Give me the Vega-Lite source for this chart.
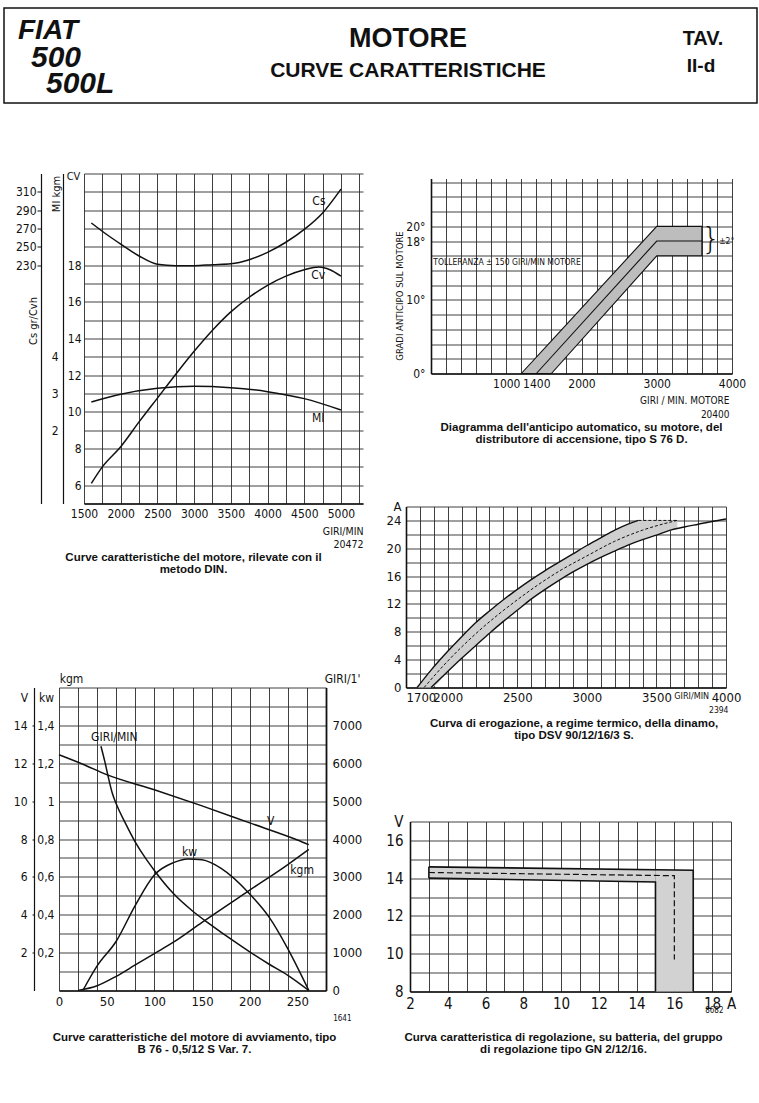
{
  "$schema": "https://vega.github.io/schema/vega-lite/v6.json",
  "background": "white",
  "padding": {"left": 3, "top": 7, "right": 0, "bottom": 0},
  "config": {
    "view": {"stroke": null},
    "font": "Liberation Sans Narrow, DejaVu Sans Condensed, Roboto Condensed, sans-serif",
    "axis": {
      "labelFont": "Liberation Sans Narrow, DejaVu Sans Condensed, Roboto Condensed, sans-serif",
      "labelFontSize": 12, "labelColor": "#111",
      "titleFont": "Liberation Sans Narrow, DejaVu Sans Condensed, Roboto Condensed, sans-serif",
      "titleFontSize": 11, "titleFontWeight": "normal", "titleColor": "#111",
      "domainColor": "#111", "tickColor": "#111",
      "gridColor": "#2a2a2a", "gridWidth": 0.9, "gridOpacity": 1,
      "labelFlush": false, "labelOverlap": false, "tickCount": 100
    },
    "title": {"font": "Liberation Sans, Arial, sans-serif", "fontSize": 11, "fontWeight": "bold", "color": "#111", "lineHeight": 12},
    "text": {"font": "Liberation Sans Narrow, DejaVu Sans Condensed, Roboto Condensed, sans-serif", "color": "#111"},
    "line": {"color": "#111"}
  },
  "datasets": {
    "intestazione": [
      {"blocco": "marca", "riga": 1, "testo": "FIAT"},
      {"blocco": "marca", "riga": 2, "testo": "500"},
      {"blocco": "marca", "riga": 3, "testo": "500L"},
      {"blocco": "titolo", "riga": 1, "testo": "MOTORE"},
      {"blocco": "titolo", "riga": 2, "testo": "CURVE CARATTERISTICHE"},
      {"blocco": "tavola", "riga": 1, "testo": "TAV."},
      {"blocco": "tavola", "riga": 2, "testo": "II-d"}
    ],
    "motore": [
      {"serie": "Cs", "giri": 1600, "valore": 276},
      {"serie": "Cs", "giri": 1800, "valore": 264},
      {"serie": "Cs", "giri": 2000, "valore": 253},
      {"serie": "Cs", "giri": 2250, "valore": 240},
      {"serie": "Cs", "giri": 2500, "valore": 231},
      {"serie": "Cs", "giri": 2750, "valore": 229.5},
      {"serie": "Cs", "giri": 3000, "valore": 229.5},
      {"serie": "Cs", "giri": 3250, "valore": 230.5},
      {"serie": "Cs", "giri": 3500, "valore": 231.5},
      {"serie": "Cs", "giri": 3750, "valore": 236},
      {"serie": "Cs", "giri": 4000, "valore": 244},
      {"serie": "Cs", "giri": 4250, "valore": 255},
      {"serie": "Cs", "giri": 4500, "valore": 269},
      {"serie": "Cs", "giri": 4750, "valore": 287},
      {"serie": "Cs", "giri": 5000, "valore": 313},
      {"serie": "Cv", "giri": 1600, "valore": 6.1},
      {"serie": "Cv", "giri": 1750, "valore": 7.0},
      {"serie": "Cv", "giri": 2000, "valore": 8.1},
      {"serie": "Cv", "giri": 2250, "valore": 9.45},
      {"serie": "Cv", "giri": 2500, "valore": 10.75},
      {"serie": "Cv", "giri": 2750, "valore": 12.05},
      {"serie": "Cv", "giri": 3000, "valore": 13.3},
      {"serie": "Cv", "giri": 3250, "valore": 14.45},
      {"serie": "Cv", "giri": 3500, "valore": 15.45},
      {"serie": "Cv", "giri": 3750, "valore": 16.25},
      {"serie": "Cv", "giri": 4000, "valore": 16.9},
      {"serie": "Cv", "giri": 4250, "valore": 17.4},
      {"serie": "Cv", "giri": 4500, "valore": 17.75},
      {"serie": "Cv", "giri": 4700, "valore": 17.9},
      {"serie": "Cv", "giri": 4850, "valore": 17.75},
      {"serie": "Cv", "giri": 5000, "valore": 17.4},
      {"serie": "MI", "giri": 1600, "valore": 2.77},
      {"serie": "MI", "giri": 2000, "valore": 2.98},
      {"serie": "MI", "giri": 2500, "valore": 3.14},
      {"serie": "MI", "giri": 3000, "valore": 3.2},
      {"serie": "MI", "giri": 3500, "valore": 3.16},
      {"serie": "MI", "giri": 4000, "valore": 3.05},
      {"serie": "MI", "giri": 4500, "valore": 2.86},
      {"serie": "MI", "giri": 5000, "valore": 2.55}
    ],
    "motore_etichette": [
      {"serie": "Cs", "testo": "Cs", "giri": 4700, "valore": 300},
      {"serie": "Cv", "testo": "Cv", "giri": 4690, "valore": 17.45},
      {"serie": "MI", "testo": "MI", "giri": 4690, "valore": 2.32}
    ],
    "anticipo_fascia": [
      {"giri": 1200, "sup": 0, "inf": 0},
      {"giri": 1600, "sup": 4.44, "inf": 0},
      {"giri": 3000, "sup": 20, "inf": 16},
      {"giri": 3600, "sup": 20, "inf": 16}
    ],
    "anticipo_medio": [
      {"giri": 1400, "gradi": 0},
      {"giri": 3000, "gradi": 18},
      {"giri": 3600, "gradi": 18}
    ],
    "anticipo_testi": [
      {"tipo": "nota", "testo": "TOLLERANZA ± 150 GIRI/MIN  MOTORE", "giri": 30, "gradi": 15.1},
      {"tipo": "graffa", "testo": "}", "giri": 3720, "gradi": 18.2},
      {"tipo": "nota", "testo": "±2°", "giri": 3830, "gradi": 18.0}
    ],
    "dinamo_fascia": [
      {"giri": 1780, "sup": 0, "inf": 0},
      {"giri": 1880, "sup": 2.5, "inf": 0},
      {"giri": 2000, "sup": 5.2, "inf": 2.3},
      {"giri": 2100, "sup": 7.3, "inf": 4.2},
      {"giri": 2200, "sup": 9.3, "inf": 6.0},
      {"giri": 2300, "sup": 11.0, "inf": 7.8},
      {"giri": 2400, "sup": 12.6, "inf": 9.5},
      {"giri": 2500, "sup": 14.1, "inf": 11.1},
      {"giri": 2600, "sup": 15.5, "inf": 12.7},
      {"giri": 2700, "sup": 16.8, "inf": 14.1},
      {"giri": 2800, "sup": 18.0, "inf": 15.4},
      {"giri": 2900, "sup": 19.2, "inf": 16.6},
      {"giri": 3000, "sup": 20.4, "inf": 17.7},
      {"giri": 3100, "sup": 21.5, "inf": 18.7},
      {"giri": 3200, "sup": 22.6, "inf": 19.6},
      {"giri": 3300, "sup": 23.5, "inf": 20.5},
      {"giri": 3370, "sup": 24.0, "inf": 21.0},
      {"giri": 3500, "sup": 24.0, "inf": 21.9},
      {"giri": 3650, "sup": 24.0, "inf": 22.85}
    ],
    "dinamo_linee": [
      {"serie": "sup", "giri": 1780, "ampere": 0},
      {"serie": "sup", "giri": 1880, "ampere": 2.5},
      {"serie": "sup", "giri": 2000, "ampere": 5.2},
      {"serie": "sup", "giri": 2100, "ampere": 7.3},
      {"serie": "sup", "giri": 2200, "ampere": 9.3},
      {"serie": "sup", "giri": 2300, "ampere": 11.0},
      {"serie": "sup", "giri": 2400, "ampere": 12.6},
      {"serie": "sup", "giri": 2500, "ampere": 14.1},
      {"serie": "sup", "giri": 2600, "ampere": 15.5},
      {"serie": "sup", "giri": 2700, "ampere": 16.8},
      {"serie": "sup", "giri": 2800, "ampere": 18.0},
      {"serie": "sup", "giri": 2900, "ampere": 19.2},
      {"serie": "sup", "giri": 3000, "ampere": 20.4},
      {"serie": "sup", "giri": 3100, "ampere": 21.5},
      {"serie": "sup", "giri": 3200, "ampere": 22.6},
      {"serie": "sup", "giri": 3300, "ampere": 23.5},
      {"serie": "sup", "giri": 3370, "ampere": 24.0},
      {"serie": "inf", "giri": 1880, "ampere": 0},
      {"serie": "inf", "giri": 2000, "ampere": 2.3},
      {"serie": "inf", "giri": 2100, "ampere": 4.2},
      {"serie": "inf", "giri": 2200, "ampere": 6.0},
      {"serie": "inf", "giri": 2300, "ampere": 7.8},
      {"serie": "inf", "giri": 2400, "ampere": 9.5},
      {"serie": "inf", "giri": 2500, "ampere": 11.1},
      {"serie": "inf", "giri": 2600, "ampere": 12.7},
      {"serie": "inf", "giri": 2700, "ampere": 14.1},
      {"serie": "inf", "giri": 2800, "ampere": 15.4},
      {"serie": "inf", "giri": 2900, "ampere": 16.6},
      {"serie": "inf", "giri": 3000, "ampere": 17.7},
      {"serie": "inf", "giri": 3100, "ampere": 18.7},
      {"serie": "inf", "giri": 3200, "ampere": 19.6},
      {"serie": "inf", "giri": 3300, "ampere": 20.5},
      {"serie": "inf", "giri": 3400, "ampere": 21.25},
      {"serie": "inf", "giri": 3500, "ampere": 21.9},
      {"serie": "inf", "giri": 3600, "ampere": 22.6},
      {"serie": "inf", "giri": 3700, "ampere": 23.05},
      {"serie": "inf", "giri": 3800, "ampere": 23.45},
      {"serie": "inf", "giri": 3900, "ampere": 23.85},
      {"serie": "inf", "giri": 4000, "ampere": 24.2},
      {"serie": "med", "giri": 1830, "ampere": 0},
      {"serie": "med", "giri": 2000, "ampere": 3.8},
      {"serie": "med", "giri": 2200, "ampere": 7.7},
      {"serie": "med", "giri": 2500, "ampere": 12.6},
      {"serie": "med", "giri": 2800, "ampere": 16.7},
      {"serie": "med", "giri": 3000, "ampere": 18.9},
      {"serie": "med", "giri": 3200, "ampere": 21.0},
      {"serie": "med", "giri": 3400, "ampere": 22.6},
      {"serie": "med", "giri": 3550, "ampere": 23.5},
      {"serie": "med", "giri": 3650, "ampere": 24.0},
      {"serie": "lim", "giri": 3370, "ampere": 24.0},
      {"serie": "lim", "giri": 3650, "ampere": 24.0}
    ],
    "avviamento": [
      {"serie": "GIRI", "corrente": 44, "valore": 6450},
      {"serie": "GIRI", "corrente": 48, "valore": 6050},
      {"serie": "GIRI", "corrente": 52, "valore": 5600},
      {"serie": "GIRI", "corrente": 56, "valore": 5200},
      {"serie": "GIRI", "corrente": 60, "valore": 4930},
      {"serie": "GIRI", "corrente": 70, "valore": 4400},
      {"serie": "GIRI", "corrente": 80, "valore": 3920},
      {"serie": "GIRI", "corrente": 90, "valore": 3520},
      {"serie": "GIRI", "corrente": 100, "valore": 3170},
      {"serie": "GIRI", "corrente": 120, "valore": 2560},
      {"serie": "GIRI", "corrente": 140, "valore": 2100},
      {"serie": "GIRI", "corrente": 160, "valore": 1720},
      {"serie": "GIRI", "corrente": 180, "valore": 1360},
      {"serie": "GIRI", "corrente": 200, "valore": 1020},
      {"serie": "GIRI", "corrente": 220, "valore": 700},
      {"serie": "GIRI", "corrente": 240, "valore": 400},
      {"serie": "GIRI", "corrente": 262, "valore": 0},
      {"serie": "V", "corrente": 0, "valore": 12.45},
      {"serie": "V", "corrente": 25, "valore": 11.95},
      {"serie": "V", "corrente": 50, "valore": 11.4},
      {"serie": "V", "corrente": 100, "valore": 10.6},
      {"serie": "V", "corrente": 150, "valore": 9.75},
      {"serie": "V", "corrente": 200, "valore": 8.85},
      {"serie": "V", "corrente": 250, "valore": 7.95},
      {"serie": "V", "corrente": 262, "valore": 7.7},
      {"serie": "kw", "corrente": 25, "valore": 0},
      {"serie": "kw", "corrente": 40, "valore": 0.13},
      {"serie": "kw", "corrente": 60, "valore": 0.26},
      {"serie": "kw", "corrente": 80, "valore": 0.45},
      {"serie": "kw", "corrente": 100, "valore": 0.61},
      {"serie": "kw", "corrente": 120, "valore": 0.675},
      {"serie": "kw", "corrente": 135, "valore": 0.695},
      {"serie": "kw", "corrente": 150, "valore": 0.69},
      {"serie": "kw", "corrente": 170, "valore": 0.645},
      {"serie": "kw", "corrente": 200, "valore": 0.51},
      {"serie": "kw", "corrente": 220, "valore": 0.39},
      {"serie": "kw", "corrente": 240, "valore": 0.22},
      {"serie": "kw", "corrente": 262, "valore": 0},
      {"serie": "kgm", "corrente": 20, "valore": 0},
      {"serie": "kgm", "corrente": 40, "valore": 0.025},
      {"serie": "kgm", "corrente": 60, "valore": 0.075},
      {"serie": "kgm", "corrente": 80, "valore": 0.135},
      {"serie": "kgm", "corrente": 100, "valore": 0.195},
      {"serie": "kgm", "corrente": 120, "valore": 0.255},
      {"serie": "kgm", "corrente": 150, "valore": 0.36},
      {"serie": "kgm", "corrente": 200, "valore": 0.53},
      {"serie": "kgm", "corrente": 240, "valore": 0.665},
      {"serie": "kgm", "corrente": 262, "valore": 0.745}
    ],
    "avviamento_etichette": [
      {"serie": "GIRI", "testo": "GIRI/MIN", "corrente": 58, "valore": 6700},
      {"serie": "V", "testo": "V", "corrente": 222, "valore": 8.95},
      {"serie": "kw", "testo": "kw", "corrente": 137, "valore": 0.73},
      {"serie": "kgm", "testo": "kgm", "corrente": 255, "valore": 0.635}
    ],
    "regolazione_fascia": [
      {"ampere": 3, "sup": 14.6, "inf": 14.0},
      {"ampere": 15, "sup": 14.43, "inf": 13.8}
    ],
    "regolazione_rett": [
      {"da": 15, "a": 17, "inf": 8, "sup": 14.42}
    ],
    "regolazione_linee": [
      {"serie": "esterno", "ord": 1, "ampere": 3, "volt": 14.6},
      {"serie": "esterno", "ord": 2, "ampere": 17, "volt": 14.42},
      {"serie": "esterno", "ord": 3, "ampere": 17, "volt": 8},
      {"serie": "interno", "ord": 1, "ampere": 3, "volt": 14.0},
      {"serie": "interno", "ord": 2, "ampere": 15, "volt": 13.8},
      {"serie": "interno", "ord": 3, "ampere": 15, "volt": 8},
      {"serie": "sinistro", "ord": 1, "ampere": 3, "volt": 14.0},
      {"serie": "sinistro", "ord": 2, "ampere": 3, "volt": 14.6},
      {"serie": "medio", "ord": 1, "ampere": 3, "volt": 14.3},
      {"serie": "medio", "ord": 2, "ampere": 16, "volt": 14.13},
      {"serie": "medio", "ord": 3, "ampere": 16, "volt": 9.7}
    ]
  },
  "spacing": 63.5,
  "vconcat": [
    {
      "width": 753, "height": 95,
      "view": {"stroke": "#111", "strokeWidth": 1.5},
      "data": {"name": "intestazione"},
      "encoding": {
        "x": {"field": "blocco", "type": "nominal", "scale": {"type": "point", "domain": ["marca", "titolo", "tavola"], "range": [14, 697], "padding": 0}, "axis": null},
        "y": {"field": "riga", "type": "ordinal", "scale": {"type": "point", "domain": [1, 2, 3], "range": [23, 76], "padding": 0}, "axis": null},
        "text": {"field": "testo"}
      },
      "layer": [
        {"transform": [{"filter": "datum.testo == 'FIAT'"}], "mark": {"type": "text", "font": "Liberation Sans, Arial, sans-serif", "fontSize": 28, "fontStyle": "italic", "fontWeight": "bold", "align": "left", "baseline": "middle"}},
        {"transform": [{"filter": "datum.testo == '500'"}], "mark": {"type": "text", "font": "Liberation Sans, Arial, sans-serif", "fontSize": 30, "fontStyle": "italic", "fontWeight": "bold", "align": "left", "baseline": "middle", "dx": 13}},
        {"transform": [{"filter": "datum.testo == '500L'"}], "mark": {"type": "text", "font": "Liberation Sans, Arial, sans-serif", "fontSize": 30, "fontStyle": "italic", "fontWeight": "bold", "align": "left", "baseline": "middle", "dx": 28}},
        {"transform": [{"filter": "datum.testo == 'MOTORE'"}], "mark": {"type": "text", "font": "Liberation Sans, Arial, sans-serif", "fontSize": 27, "fontWeight": "bold", "align": "center", "baseline": "middle", "dx": 48.5, "dy": 8}},
        {"transform": [{"filter": "datum.testo == 'CURVE CARATTERISTICHE'"}], "mark": {"type": "text", "font": "Liberation Sans, Arial, sans-serif", "fontSize": 21, "fontWeight": "bold", "align": "center", "baseline": "middle", "dx": 48.5, "dy": 13}},
        {"transform": [{"filter": "datum.testo == 'TAV.'"}], "mark": {"type": "text", "font": "Liberation Sans, Arial, sans-serif", "fontSize": 20, "fontWeight": "bold", "align": "center", "baseline": "middle", "dx": 2, "dy": 8}},
        {"transform": [{"filter": "datum.testo == 'II-d'"}], "mark": {"type": "text", "font": "Liberation Sans, Arial, sans-serif", "fontSize": 19, "fontWeight": "bold", "align": "center", "baseline": "middle", "dy": 8}}
      ]
    },
    {
      "spacing": 6,
      "hconcat": [
        {
          "spacing": 0,
          "vconcat": [
            {
              "spacing": 0,
              "bounds": "flush",
              "hconcat": [
                {"width": 80, "height": 499, "data": {"values": []}, "mark": "point"},
                {
                  "width": 279, "height": 330,
                  "title": {"text": ["Curve caratteristiche del motore, rilevate con il", "metodo DIN."], "orient": "bottom", "anchor": "middle", "frame": "group", "dx": -30, "offset": 2, "fontSize": 11.5},
                  "resolve": {"scale": {"y": "independent"}},
                  "layer": [
                    {
                      "layer": [
                        {
                          "data": {"name": "motore"},
                          "transform": [{"filter": "datum.serie == 'Cv'"}],
                          "mark": {"type": "line", "interpolate": "monotone", "strokeWidth": 1.5, "color": "#111"},
                          "encoding": {
                            "x": {"field": "giri", "type": "quantitative", "scale": {"domain": [1500, 5300], "nice": false, "zero": false},
                              "axis": {"values": [1500, 1750, 2000, 2250, 2500, 2750, 3000, 3250, 3500, 3750, 4000, 4250, 4500, 4750, 5000, 5250], "tickCount": 100, "grid": true, "format": "d", "labelExpr": "datum.value % 500 == 0 ? datum.label : ''", "ticks": false, "domainWidth": 1.5, "labelPadding": 5, "labelFontSize": 12, "title": ["GIRI/MIN", "20472"], "titleAlign": "right", "titleX": 279, "titleY": 23, "titleBaseline": "top", "titleFontSize": 10.5, "titleLineHeight": 13}},
                            "y": {"field": "valore", "type": "quantitative", "scale": {"domain": [5, 23], "nice": false, "zero": false},
                              "axis": {"values": [5, 6, 7, 8, 9, 10, 11, 12, 13, 14, 15, 16, 17, 18, 19, 20, 21, 22, 23], "tickCount": 100, "format": "d", "grid": true, "domain": false, "ticks": false, "labelExpr": "(datum.value % 2 == 0 && datum.value >= 6 && datum.value <= 18) ? datum.label : ''", "labelPadding": 3, "labelFontSize": 12, "title": "CV", "titleAngle": 0, "titleX": -11, "titleY": 3, "titleAlign": "center", "titleBaseline": "middle"}}
                          }
                        },
                        {
                          "data": {"name": "motore_etichette"},
                          "transform": [{"filter": "datum.serie == 'Cv'"}],
                          "mark": {"type": "text", "fontSize": 12},
                          "encoding": {
                            "x": {"field": "giri", "type": "quantitative", "scale": {"domain": [1500, 5300], "nice": false, "zero": false}},
                            "y": {"field": "valore", "type": "quantitative", "scale": {"domain": [5, 23], "nice": false, "zero": false}},
                            "text": {"field": "testo"}
                          }
                        }
                      ]
                    },
                    {
                      "layer": [
                        {
                          "data": {"name": "motore"},
                          "transform": [{"filter": "datum.serie == 'Cs'"}],
                          "mark": {"type": "line", "interpolate": "monotone", "strokeWidth": 1.5, "color": "#111"},
                          "encoding": {
                            "x": {"field": "giri", "type": "quantitative", "scale": {"domain": [1500, 5300], "nice": false, "zero": false}},
                            "y": {"field": "valore", "type": "quantitative", "scale": {"domain": [-30, 330], "nice": false, "zero": false},
                              "axis": {"orient": "left", "offset": 43, "values": [230, 250, 270, 290, 310], "tickCount": 100, "format": "d", "grid": false, "domain": true, "domainWidth": 1.2, "ticks": true, "tickSize": 4, "labelPadding": 1, "labelFontSize": 12, "title": "Cs gr/Cvh", "titleAngle": -90, "titleX": -8, "titleY": 147, "titleAlign": "center", "titleBaseline": "middle"}}
                          }
                        },
                        {
                          "data": {"name": "motore_etichette"},
                          "transform": [{"filter": "datum.serie == 'Cs'"}],
                          "mark": {"type": "text", "fontSize": 12},
                          "encoding": {
                            "x": {"field": "giri", "type": "quantitative", "scale": {"domain": [1500, 5300], "nice": false, "zero": false}},
                            "y": {"field": "valore", "type": "quantitative", "scale": {"domain": [-30, 330], "nice": false, "zero": false}},
                            "text": {"field": "testo"}
                          }
                        }
                      ]
                    },
                    {
                      "layer": [
                        {
                          "data": {"name": "motore"},
                          "transform": [{"filter": "datum.serie == 'MI'"}],
                          "mark": {"type": "line", "interpolate": "monotone", "strokeWidth": 1.5, "color": "#111"},
                          "encoding": {
                            "x": {"field": "giri", "type": "quantitative", "scale": {"domain": [1500, 5300], "nice": false, "zero": false}},
                            "y": {"field": "valore", "type": "quantitative", "scale": {"domain": [0, 9], "nice": false, "zero": false},
                              "axis": {"orient": "left", "offset": 21, "values": [2, 3, 4], "tickCount": 100, "format": "d", "grid": false, "domain": true, "domainWidth": 1.2, "ticks": false, "labelPadding": 5, "labelFontSize": 12, "title": "MI kgm", "titleAngle": -90, "titleX": -7, "titleY": 20, "titleAlign": "center", "titleBaseline": "middle"}}
                          }
                        },
                        {
                          "data": {"name": "motore_etichette"},
                          "transform": [{"filter": "datum.serie == 'MI'"}],
                          "mark": {"type": "text", "fontSize": 12},
                          "encoding": {
                            "x": {"field": "giri", "type": "quantitative", "scale": {"domain": [1500, 5300], "nice": false, "zero": false}},
                            "y": {"field": "valore", "type": "quantitative", "scale": {"domain": [0, 9], "nice": false, "zero": false}},
                            "text": {"field": "testo"}
                          }
                        }
                      ]
                    }
                  ]
                }
              ]
            },
            {
              "spacing": 0,
              "bounds": "flush",
              "hconcat": [
                {"width": 55, "height": 1, "data": {"values": []}, "mark": "point"},
                {
                  "width": 267, "height": 303,
                  "title": {"text": ["Curve caratteristiche del motore di avviamento, tipo", "B 76 - 0,5/12 S  Var. 7."], "orient": "bottom", "anchor": "middle", "frame": "group", "dx": 2, "offset": 9, "fontSize": 11.5},
                  "resolve": {"scale": {"y": "independent"}},
                  "layer": [
                    {
                      "layer": [
                        {
                          "data": {"name": "avviamento"},
                          "transform": [{"filter": "datum.serie == 'GIRI'"}],
                          "mark": {"type": "line", "interpolate": "monotone", "strokeWidth": 1.5, "color": "#111"},
                          "encoding": {
                            "x": {"field": "corrente", "type": "quantitative", "scale": {"domain": [0, 280], "nice": false, "zero": false},
                              "axis": {"values": [0, 20, 40, 50, 60, 80, 100, 120, 140, 150, 160, 180, 200, 220, 240, 250, 260, 280], "tickCount": 100, "grid": true, "gridOpacity": {"condition": {"test": "datum.value % 20 != 0", "value": 0}, "value": 1}, "format": "d", "labelExpr": "datum.value % 50 == 0 ? datum.label : ''", "ticks": false, "domainWidth": 1.5, "labelPadding": 5, "labelFontSize": 13, "title": "1641", "titleAlign": "right", "titleX": 292, "titleY": 28, "titleBaseline": "middle", "titleFontSize": 8}},
                            "y": {"field": "valore", "type": "quantitative", "scale": {"domain": [0, 8000], "nice": false, "zero": false},
                              "axis": {"orient": "right", "values": [0, 500, 1000, 1500, 2000, 2500, 3000, 3500, 4000, 4500, 5000, 5500, 6000, 6500, 7000, 7500, 8000], "tickCount": 100, "grid": true, "format": "d", "labelExpr": "(datum.value % 1000 == 0 && datum.value <= 7000) ? datum.label : ''", "domain": true, "domainWidth": 1.8, "ticks": false, "labelPadding": 6, "labelFontSize": 13, "title": "GIRI/1'", "titleAngle": 0, "titleX": 16, "titleY": -9, "titleAlign": "center", "titleBaseline": "middle", "titleFontSize": 12}}
                          }
                        },
                        {
                          "data": {"name": "avviamento_etichette"},
                          "transform": [{"filter": "datum.serie == 'GIRI'"}],
                          "mark": {"type": "text", "fontSize": 12},
                          "encoding": {
                            "x": {"field": "corrente", "type": "quantitative", "scale": {"domain": [0, 280], "nice": false, "zero": false}},
                            "y": {"field": "valore", "type": "quantitative", "scale": {"domain": [0, 8000], "nice": false, "zero": false}},
                            "text": {"field": "testo"}
                          }
                        }
                      ]
                    },
                    {
                      "layer": [
                        {
                          "data": {"name": "avviamento"},
                          "transform": [{"filter": "datum.serie == 'V'"}],
                          "mark": {"type": "line", "interpolate": "monotone", "strokeWidth": 1.5, "color": "#111"},
                          "encoding": {
                            "x": {"field": "corrente", "type": "quantitative", "scale": {"domain": [0, 280], "nice": false, "zero": false}},
                            "y": {"field": "valore", "type": "quantitative", "scale": {"domain": [0, 16], "nice": false, "zero": false},
                              "axis": {"orient": "left", "offset": 25, "values": [2, 4, 6, 8, 10, 12, 14], "tickCount": 100, "format": "d", "grid": false, "domain": true, "domainWidth": 1.2, "ticks": true, "tickSize": 2, "labelPadding": 5, "labelFontSize": 12, "title": "V", "titleAngle": 0, "titleX": -10, "titleY": 10, "titleAlign": "center", "titleBaseline": "middle", "titleFontSize": 12}}
                          }
                        },
                        {
                          "data": {"name": "avviamento_etichette"},
                          "transform": [{"filter": "datum.serie == 'V'"}],
                          "mark": {"type": "text", "fontSize": 12},
                          "encoding": {
                            "x": {"field": "corrente", "type": "quantitative", "scale": {"domain": [0, 280], "nice": false, "zero": false}},
                            "y": {"field": "valore", "type": "quantitative", "scale": {"domain": [0, 16], "nice": false, "zero": false}},
                            "text": {"field": "testo"}
                          }
                        }
                      ]
                    },
                    {
                      "layer": [
                        {
                          "data": {"name": "avviamento"},
                          "transform": [{"filter": "datum.serie == 'kw'"}],
                          "mark": {"type": "line", "interpolate": "monotone", "strokeWidth": 1.5, "color": "#111"},
                          "encoding": {
                            "x": {"field": "corrente", "type": "quantitative", "scale": {"domain": [0, 280], "nice": false, "zero": false}},
                            "y": {"field": "valore", "type": "quantitative", "scale": {"domain": [0, 1.6], "nice": false, "zero": false},
                              "axis": {"orient": "left", "offset": 0, "values": [0.2, 0.4, 0.6, 0.8, 1, 1.2, 1.4], "tickCount": 100, "grid": false, "domain": false, "ticks": false, "labelExpr": "replace(format(datum.value, '.1~f'), '.', ',')", "labelPadding": 5, "labelFontSize": 12, "title": "kw", "titleAngle": 0, "titleX": -13, "titleY": 10, "titleAlign": "center", "titleBaseline": "middle", "titleFontSize": 12}}
                          }
                        },
                        {
                          "data": {"name": "avviamento_etichette"},
                          "transform": [{"filter": "datum.serie == 'kw'"}],
                          "mark": {"type": "text", "fontSize": 12},
                          "encoding": {
                            "x": {"field": "corrente", "type": "quantitative", "scale": {"domain": [0, 280], "nice": false, "zero": false}},
                            "y": {"field": "valore", "type": "quantitative", "scale": {"domain": [0, 1.6], "nice": false, "zero": false}},
                            "text": {"field": "testo"}
                          }
                        }
                      ]
                    },
                    {
                      "layer": [
                        {
                          "data": {"name": "avviamento"},
                          "transform": [{"filter": "datum.serie == 'kgm'"}],
                          "mark": {"type": "line", "interpolate": "monotone", "strokeWidth": 1.5, "color": "#111"},
                          "encoding": {
                            "x": {"field": "corrente", "type": "quantitative", "scale": {"domain": [0, 280], "nice": false, "zero": false}},
                            "y": {"field": "valore", "type": "quantitative", "scale": {"domain": [0, 1.6], "nice": false, "zero": false},
                              "axis": {"orient": "left", "offset": 0, "values": [0.2], "grid": false, "domain": false, "ticks": false, "labels": false, "title": "kgm", "titleAngle": 0, "titleX": 12, "titleY": -9, "titleAlign": "center", "titleBaseline": "middle", "titleFontSize": 12}}
                          }
                        },
                        {
                          "data": {"name": "avviamento_etichette"},
                          "transform": [{"filter": "datum.serie == 'kgm'"}],
                          "mark": {"type": "text", "fontSize": 12},
                          "encoding": {
                            "x": {"field": "corrente", "type": "quantitative", "scale": {"domain": [0, 280], "nice": false, "zero": false}},
                            "y": {"field": "valore", "type": "quantitative", "scale": {"domain": [0, 1.6], "nice": false, "zero": false}},
                            "text": {"field": "testo"}
                          }
                        }
                      ]
                    }
                  ]
                }
              ]
            },
            {"width": 366, "height": 1, "data": {"values": []}, "mark": "point"}
          ]
        },
        {
          "spacing": 0,
          "vconcat": [
            {"width": 1, "height": 2, "data": {"values": []}, "mark": "point"},
            {
              "spacing": 0,
              "bounds": "flush",
              "hconcat": [
                {"width": 55, "height": 321.5, "data": {"values": []}, "mark": "point"},
                {
                  "width": 301, "height": 195,
                  "title": {"text": ["Diagramma dell'anticipo automatico, su motore, del", "distributore di accensione, tipo S 76 D."], "orient": "bottom", "anchor": "middle", "frame": "group", "offset": 2, "fontSize": 11.5},
                  "layer": [
                    {
                      "data": {"name": "anticipo_fascia"},
                      "mark": {"type": "area", "fill": "#bdbdbd", "stroke": "#111", "strokeWidth": 1.1},
                      "encoding": {
                        "x": {"field": "giri", "type": "quantitative", "scale": {"domain": [0, 4000], "nice": false, "zero": false},
                          "axis": {"values": [0, 200, 400, 600, 800, 1000, 1200, 1400, 1600, 1800, 2000, 2200, 2400, 2600, 2800, 3000, 3200, 3400, 3600, 3800, 4000], "tickCount": 100, "grid": true, "format": "d", "labelExpr": "indexof([1000, 1400, 2000, 3000, 4000], datum.value) >= 0 ? datum.label : ''", "ticks": false, "domainWidth": 1.6, "labelPadding": 5, "labelFontSize": 12, "title": ["GIRI / MIN. MOTORE", "20400"], "titleAlign": "right", "titleX": 298, "titleY": 22, "titleBaseline": "top", "titleFontSize": 10, "titleLineHeight": 14}},
                        "y": {"field": "sup", "type": "quantitative", "scale": {"domain": [0, 26.5], "nice": false, "zero": false},
                          "axis": {"values": [0, 2, 4, 6, 8, 10, 12, 14, 16, 18, 20, 22, 24, 26], "tickCount": 100, "grid": true, "domainWidth": 1.6, "ticks": false, "labelExpr": "indexof([0, 10, 18, 20], datum.value) >= 0 ? datum.value + '°' : ''", "labelPadding": 6, "labelFontSize": 12, "title": "GRADI  ANTICIPO  SUL  MOTORE", "titleAngle": -90, "titleX": -32, "titleY": 117, "titleAlign": "center", "titleBaseline": "middle", "titleFontSize": 9.5}},
                        "y2": {"field": "inf"}
                      }
                    },
                    {
                      "data": {"name": "anticipo_medio"},
                      "mark": {"type": "line", "strokeWidth": 1.1, "color": "#111"},
                      "encoding": {
                        "x": {"field": "giri", "type": "quantitative", "scale": {"domain": [0, 4000], "nice": false, "zero": false}},
                        "y": {"field": "gradi", "type": "quantitative", "scale": {"domain": [0, 26.5], "nice": false, "zero": false}}
                      }
                    },
                    {
                      "data": {"name": "anticipo_testi"},
                      "transform": [{"filter": "datum.tipo == 'nota'"}],
                      "mark": {"type": "text", "fontSize": 8.5, "align": "left", "baseline": "middle"},
                      "encoding": {
                        "x": {"field": "giri", "type": "quantitative", "scale": {"domain": [0, 4000], "nice": false, "zero": false}},
                        "y": {"field": "gradi", "type": "quantitative", "scale": {"domain": [0, 26.5], "nice": false, "zero": false}},
                        "text": {"field": "testo"}
                      }
                    },
                    {
                      "data": {"name": "anticipo_testi"},
                      "transform": [{"filter": "datum.tipo == 'graffa'"}],
                      "mark": {"type": "text", "fontSize": 30, "align": "center", "baseline": "middle", "font": "DejaVu Sans", "fontWeight": 300},
                      "encoding": {
                        "x": {"field": "giri", "type": "quantitative", "scale": {"domain": [0, 4000], "nice": false, "zero": false}},
                        "y": {"field": "gradi", "type": "quantitative", "scale": {"domain": [0, 26.5], "nice": false, "zero": false}},
                        "text": {"field": "testo"}
                      }
                    }
                  ]
                }
              ]
            },
            {
              "spacing": 0,
              "bounds": "flush",
              "hconcat": [
                {"width": 30, "height": 307.5, "data": {"values": []}, "mark": "point"},
                {
                  "width": 320, "height": 181,
                  "title": {"text": ["Curva di erogazione, a regime termico, della dinamo,", "tipo DSV 90/12/16/3 S."], "orient": "bottom", "anchor": "middle", "frame": "group", "dx": 8, "offset": 4, "fontSize": 11.5},
                  "layer": [
                    {
                      "data": {"name": "dinamo_fascia"},
                      "mark": {"type": "area", "interpolate": "monotone", "fill": "#cfcfcf"},
                      "encoding": {
                        "x": {"field": "giri", "type": "quantitative", "scale": {"domain": [1700, 4000], "nice": false, "zero": false},
                          "axis": {"values": [1700, 1800, 1900, 2000, 2100, 2200, 2300, 2400, 2500, 2600, 2700, 2800, 2900, 3000, 3100, 3200, 3300, 3400, 3500, 3600, 3700, 3750, 3800, 3900, 4000], "tickCount": 100, "grid": true, "gridOpacity": {"condition": {"test": "datum.value == 3750", "value": 0}, "value": 1}, "format": "d", "labelExpr": "datum.value == 3750 ? 'GIRI/MIN' : (indexof([1700, 2000, 2500, 3000, 3500, 4000], datum.value) >= 0 ? datum.label : '')", "labelFontSize": {"condition": {"test": "datum.value == 3750", "value": 9}, "value": 13}, "labelAlign": {"condition": {"test": "datum.value == 1700", "value": "left"}, "value": "center"}, "ticks": false, "domainWidth": 1.6, "labelPadding": 4, "title": "2394", "titleAlign": "right", "titleX": 322, "titleY": 22, "titleBaseline": "middle", "titleFontSize": 8.5}},
                        "y": {"field": "sup", "type": "quantitative", "scale": {"domain": [0, 26], "nice": false, "zero": false},
                          "axis": {"values": [0, 2, 4, 6, 8, 10, 12, 14, 16, 18, 20, 22, 24, 26], "tickCount": 100, "format": "d", "grid": true, "domainWidth": 1.6, "ticks": false, "labelExpr": "datum.value == 26 ? 'A' : (datum.value % 4 == 0 ? datum.label : '')", "labelPadding": 5, "labelFontSize": 13, "title": null}},
                        "y2": {"field": "inf"}
                      }
                    },
                    {
                      "data": {"name": "dinamo_linee"},
                      "transform": [{"filter": "datum.serie == 'sup' || datum.serie == 'inf'"}],
                      "mark": {"type": "line", "interpolate": "monotone", "strokeWidth": 1.4, "color": "#111"},
                      "encoding": {
                        "x": {"field": "giri", "type": "quantitative", "scale": {"domain": [1700, 4000], "nice": false, "zero": false}},
                        "y": {"field": "ampere", "type": "quantitative", "scale": {"domain": [0, 26], "nice": false, "zero": false}},
                        "detail": {"field": "serie"}
                      }
                    },
                    {
                      "data": {"name": "dinamo_linee"},
                      "transform": [{"filter": "datum.serie == 'med' || datum.serie == 'lim'"}],
                      "mark": {"type": "line", "interpolate": "monotone", "strokeWidth": 1, "strokeDash": [3, 2], "color": "#111"},
                      "encoding": {
                        "x": {"field": "giri", "type": "quantitative", "scale": {"domain": [1700, 4000], "nice": false, "zero": false}},
                        "y": {"field": "ampere", "type": "quantitative", "scale": {"domain": [0, 26], "nice": false, "zero": false}},
                        "detail": {"field": "serie"}
                      }
                    }
                  ]
                }
              ]
            },
            {
              "spacing": 0,
              "bounds": "flush",
              "hconcat": [
                {"width": 34, "height": 1, "data": {"values": []}, "mark": "point"},
                {
                  "width": 321, "height": 170,
                  "title": {"text": ["Curva caratteristica di regolazione, su batteria, del gruppo", "di regolazione tipo GN 2/12/16."], "orient": "bottom", "anchor": "middle", "frame": "group", "dx": -7, "offset": 17, "fontSize": 11.5},
                  "layer": [
                    {
                      "data": {"name": "regolazione_fascia"},
                      "mark": {"type": "area", "fill": "#d2d2d2"},
                      "encoding": {
                        "x": {"field": "ampere", "type": "quantitative", "scale": {"domain": [2, 19], "nice": false, "zero": false},
                          "axis": {"values": [2, 3, 4, 5, 6, 7, 8, 9, 10, 11, 12, 13, 14, 15, 16, 17, 18, 19], "tickCount": 100, "format": "d", "grid": true, "labelExpr": "datum.value == 19 ? 'A' : (datum.value % 2 == 0 ? datum.label : '')", "ticks": false, "domainWidth": 1.6, "labelPadding": 5, "labelFontSize": 15, "title": "8682", "titleAlign": "right", "titleX": 313, "titleY": 19, "titleBaseline": "middle", "titleFontSize": 8}},
                        "y": {"field": "sup", "type": "quantitative", "scale": {"domain": [8, 17], "nice": false, "zero": false},
                          "axis": {"values": [8, 9, 10, 11, 12, 13, 14, 15, 16, 17], "tickCount": 100, "format": "d", "grid": true, "domainWidth": 1.6, "ticks": false, "labelExpr": "datum.value == 17 ? 'V' : (datum.value % 2 == 0 ? datum.label : '')", "labelPadding": 7, "labelFontSize": 15, "title": null}},
                        "y2": {"field": "inf"}
                      }
                    },
                    {
                      "data": {"name": "regolazione_rett"},
                      "mark": {"type": "rect", "fill": "#d2d2d2"},
                      "encoding": {
                        "x": {"field": "da", "type": "quantitative", "scale": {"domain": [2, 19], "nice": false, "zero": false}},
                        "x2": {"field": "a"},
                        "y": {"field": "inf", "type": "quantitative", "scale": {"domain": [8, 17], "nice": false, "zero": false}},
                        "y2": {"field": "sup"}
                      }
                    },
                    {
                      "data": {"name": "regolazione_linee"},
                      "transform": [{"filter": "datum.serie != 'medio'"}],
                      "mark": {"type": "line", "strokeWidth": 1.6, "color": "#111"},
                      "encoding": {
                        "x": {"field": "ampere", "type": "quantitative", "scale": {"domain": [2, 19], "nice": false, "zero": false}},
                        "y": {"field": "volt", "type": "quantitative", "scale": {"domain": [8, 17], "nice": false, "zero": false}},
                        "detail": {"field": "serie"},
                        "order": {"field": "ord"}
                      }
                    },
                    {
                      "data": {"name": "regolazione_linee"},
                      "transform": [{"filter": "datum.serie == 'medio'"}],
                      "mark": {"type": "line", "strokeWidth": 1.2, "strokeDash": [6, 3], "color": "#111"},
                      "encoding": {
                        "x": {"field": "ampere", "type": "quantitative", "scale": {"domain": [2, 19], "nice": false, "zero": false}},
                        "y": {"field": "volt", "type": "quantitative", "scale": {"domain": [8, 17], "nice": false, "zero": false}},
                        "detail": {"field": "serie"},
                        "order": {"field": "ord"}
                      }
                    }
                  ]
                }
              ]
            }
          ]
        }
      ]
    }
  ]
}
